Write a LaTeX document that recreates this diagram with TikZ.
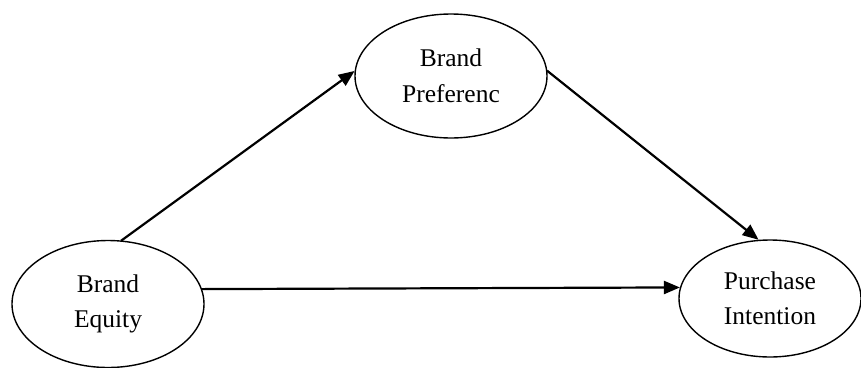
\documentclass[tikz,border=0pt]{standalone}
\usepackage{fontspec}
\setmainfont{Liberation Serif}
\usetikzlibrary{shapes.geometric,arrows.meta}
\tikzset{
  construct/.style={ellipse, draw=black, line width=1.4pt, inner sep=0pt, align=center,
    font=\fontsize{25.5}{35.5}\selectfont},
  link/.style={line width=2.2pt, -{Triangle[length=16pt,width=13pt]}, shorten <=-0.5pt}
}
\begin{document}
\begin{tikzpicture}[x=1pt,y=-1pt]
\useasboundingbox[fill=white] (0,0) rectangle (861,367);
\node[construct, minimum width=192pt, minimum height=127pt] (eq) at (108,304) {Brand\\Equity};
\node[construct, minimum width=192pt, minimum height=124pt] (bp) at (451,76) {Brand\\Preferenc};
\node[construct, minimum width=182pt, minimum height=117pt] (pi) at (770,298.5) {Purchase\\Intention};
\draw[link] (eq.78.7) -- (bp.177.5);
\draw[link] (bp.3.6) -- (pi.101);
\draw[link] (eq.9.8) -- (pi.173.2);
\end{tikzpicture}
\end{document}
